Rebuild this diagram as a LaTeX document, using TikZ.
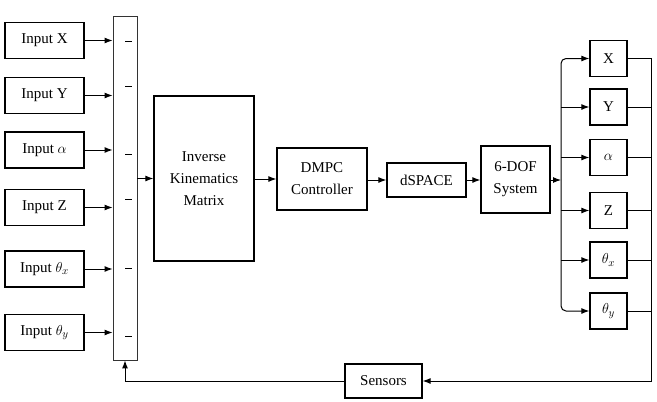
\documentclass[tikz,border=0pt]{standalone}
\usepackage{fontspec}
\setmainfont{Liberation Serif}
\usetikzlibrary{arrows.meta,calc}
\begin{document}
\begin{tikzpicture}[x=1pt,y=-1pt,
  blk/.style={draw, line width=1.3pt, inner sep=0pt, align=center, font=\fontsize{15}{22}\selectfont},
  inbox/.style={blk, minimum width=79pt, minimum height=36pt},
  outbox/.style={blk, minimum width=37pt, minimum height=36pt},
  arr/.style={line width=1pt, -{Latex[length=8pt,width=6pt]}},
  ln/.style={line width=1pt},
  dashmark/.style={line width=1pt}]
\useasboundingbox (0,0) rectangle (657,402);
% inputs
\node[inbox] (ix) at (44.5,40.5) {Input X};
\node[inbox] (iy) at (44.5,95.5) {Input Y};
\node[inbox] (ia) at (44.5,150) {Input $\alpha$};
\node[inbox] (iz) at (44.5,207.5) {Input Z};
\node[inbox] (itx) at (44.5,269) {Input $\theta_x$};
\node[inbox] (ity) at (44.5,332.5) {Input $\theta_y$};
% bus
\node[draw, line width=0.9pt, draw=black!80, minimum width=24pt, minimum height=344pt, inner sep=0pt] (bus) at (125,188) {};
\foreach \yy in {41,86,154,199,268,336}{
  \draw[dashmark] (125,\yy) -- (132,\yy);
}
\foreach \n in {ix,iy,ia,iz,itx,ity}{
  \draw[arr] (\n.east) -- (\n.east -| bus.west);
}
% main chain
\node[blk, minimum width=100pt, minimum height=165pt] (ikm) at (204,178.5) {Inverse\\Kinematics\\Matrix};
\node[blk, minimum width=90pt, minimum height=62pt] (dmpc) at (322,179) {DMPC\\Controller};
\node[blk, minimum width=79pt, minimum height=34pt] (dsp) at (426.5,180) {dSPACE};
\node[blk, minimum width=69pt, minimum height=67pt] (dof) at (515.5,179.5) {6-DOF\\System};
\draw[arr] (bus.east |- ikm.west) -- (ikm.west);
\draw[arr] (ikm.east |- dmpc.west) -- (dmpc.west);
\draw[arr] (dmpc.east |- dsp.west) -- (dsp.west);
\draw[arr] (dsp.east) -- (dsp.east -| dof.west);
% outputs
\node[outbox] (ox) at (608.5,58.5) {X};
\node[outbox] (oy) at (608.5,107) {Y};
\node[outbox] (oa) at (608.5,157.5) {$\alpha$};
\node[outbox] (oz) at (608.5,210.5) {Z};
\node[outbox] (otx) at (608.5,260) {$\theta_x$};
\node[outbox] (oty) at (608.5,311) {$\theta_y$};
\coordinate (rb) at (561,180);
\coordinate (fb) at (651,381);
\draw[arr] (dof.east |- rb) -- (rb);
\draw[line width=1pt, {Latex[length=8pt,width=6pt]}-{Latex[length=8pt,width=6pt]}, rounded corners=5pt]
  (ox.west) -- (ox.west -| rb) -- (oty.west -| rb) -- (oty.west);
\foreach \n in {oy,oa,oz,otx}{
  \draw[arr] (\n.west -| rb) -- (\n.west);
}
\foreach \n in {oy,oa,oz,otx,oty}{
  \draw[ln] (\n.east) -- (\n.east -| fb);
}
% feedback
\node[blk, minimum width=77pt, minimum height=34pt] (sens) at (383.5,381) {Sensors};
\draw[arr] (ox.east) -| (fb) -- (sens.east);
\draw[arr] (sens.west) -| (bus.south);
\end{tikzpicture}
\end{document}
